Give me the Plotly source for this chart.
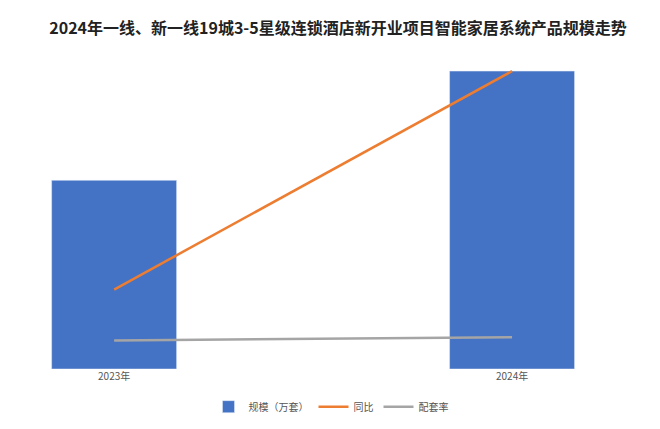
import plotly.graph_objects as go

years = ["2023年", "2024年"]
scale = [5.7, 9.0]
yoy = [24, 90]
match_rate = [8.6, 9.6]

fig = go.Figure()
fig.add_trace(go.Bar(x=years, y=scale, name="规模（万套）", marker_color="#4472C4", width=0.314))
fig.add_trace(go.Scatter(x=years, y=yoy, name="同比", mode="lines",
                         line=dict(color="#ED7D31", width=2.5), yaxis="y2"))
fig.add_trace(go.Scatter(x=years, y=match_rate, name="配套率", mode="lines",
                         line=dict(color="#A5A5A5", width=2.5), yaxis="y2"))

fig.update_layout(
    width=660, height=429,
    paper_bgcolor="white", plot_bgcolor="white",
    margin=dict(l=13, r=27, t=30, b=68),
    title=dict(text="<b>2024年一线、新一线19城3-5星级连锁酒店新开业项目智能家居系统产品规模走势</b>",
               x=0.5, y=0.965, xanchor="center",
               font=dict(family="Noto Sans CJK SC", size=16, color="#222")),
    xaxis=dict(range=[-0.234, 1.324], showgrid=False, showline=False,
               tickfont=dict(size=10, color="#555")),
    yaxis=dict(range=[0, 10], visible=False),
    yaxis2=dict(range=[0, 100], overlaying="y", visible=False),
    legend=dict(orientation="h", x=0.5, xanchor="center", y=-0.07, yanchor="top",
                font=dict(size=10, color="#555")),
    font=dict(family="Noto Sans CJK SC"),
    bargap=0.5,
)
fig.write_html("out.html")
